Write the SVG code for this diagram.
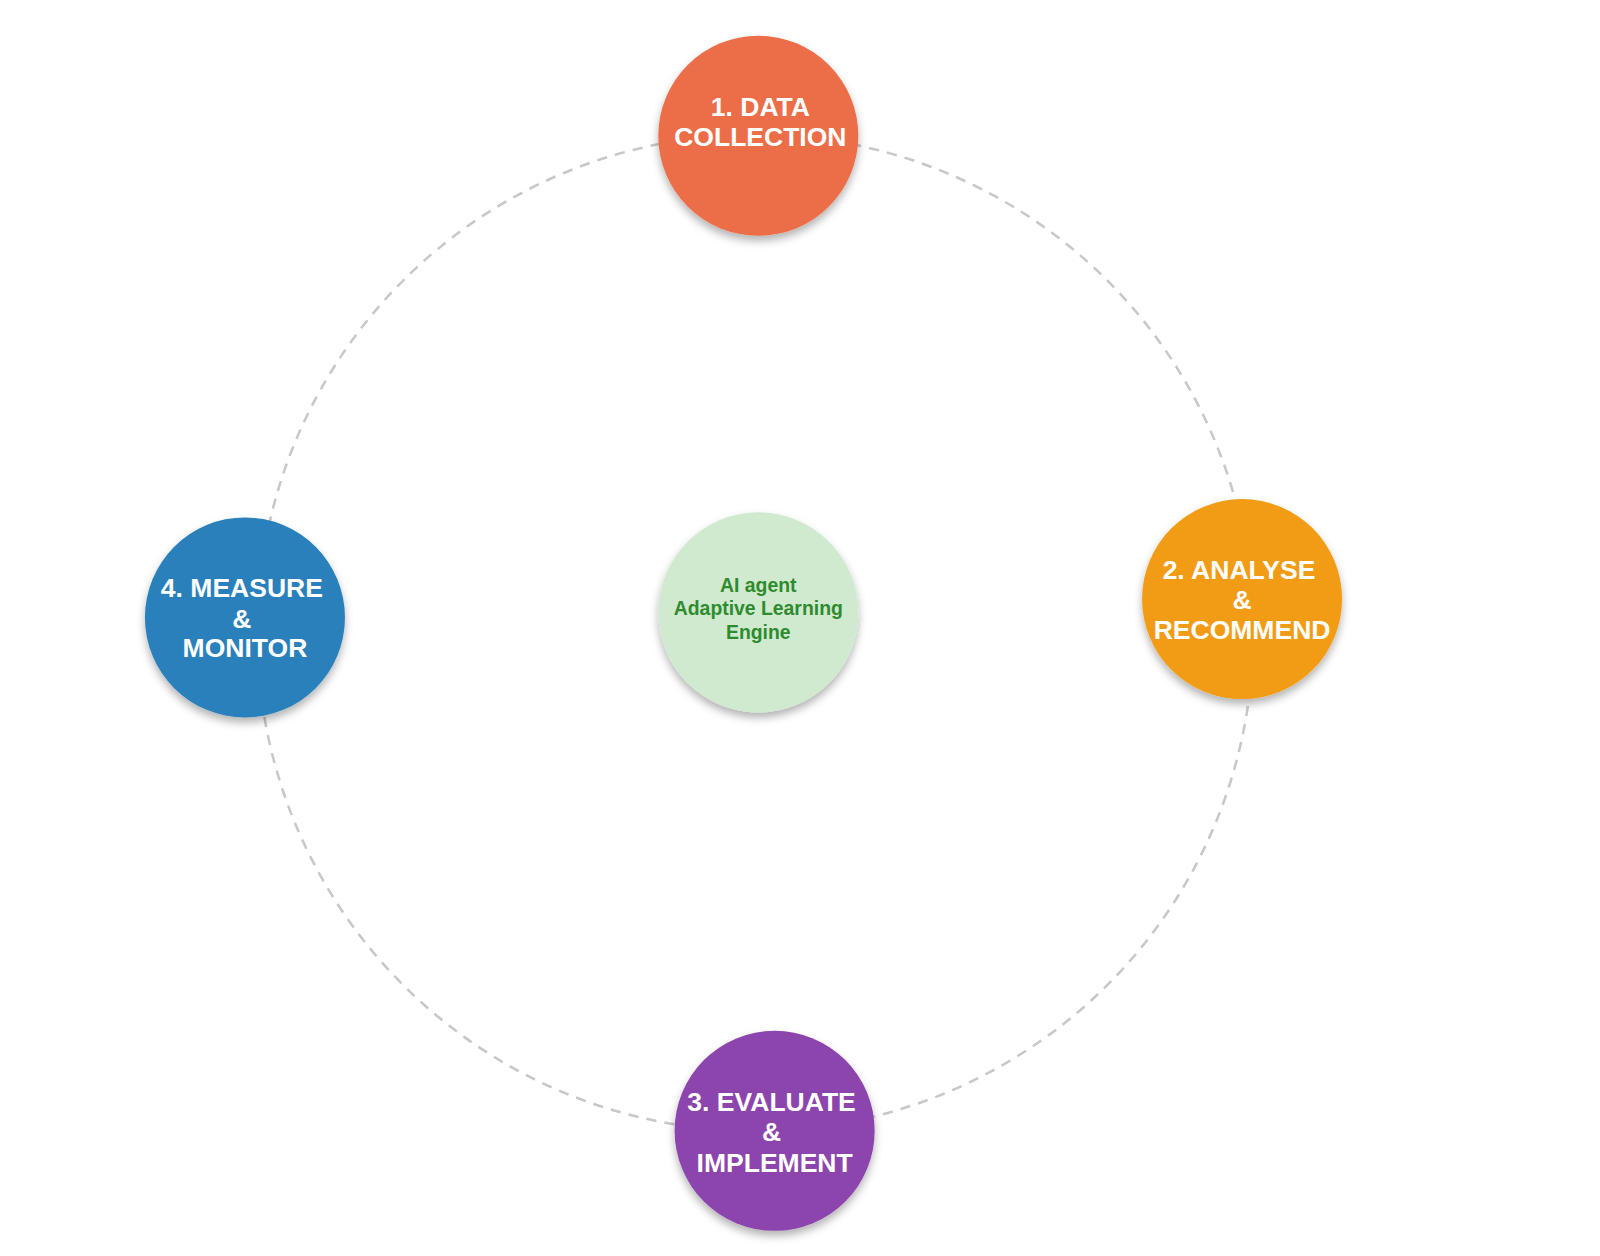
<svg xmlns="http://www.w3.org/2000/svg" width="1600" height="1256" viewBox="0 0 1600 1256">
<defs>
<filter id="sh" x="-20%" y="-20%" width="140%" height="150%"><feDropShadow dx="0" dy="5" stdDeviation="4" flood-color="#000" flood-opacity="0.3"/></filter>
<style>
.n{filter:url(#sh)}
.t{font-family:"Liberation Sans",Arial,sans-serif;font-weight:bold;font-size:26px;fill:#fff;text-anchor:middle}
.c{font-family:"Liberation Sans",Arial,sans-serif;font-weight:bold;font-size:19px;fill:#2e8b2e;text-anchor:middle}
</style>
</defs>
<rect width="1600" height="1256" fill="#fff"/>
<g transform="scale(1.0206)">
<g id="connectors"><circle cx="740" cy="620" r="488" fill="none" stroke="#c8c8c8" stroke-width="2.5" stroke-dasharray="10 8"/></g>
<g id="n1"><circle class="n" cx="743" cy="133" r="98" fill="#eb6e4a"/><text class="t" x="745" y="114">1. DATA</text><text class="t" x="745" y="143">COLLECTION</text></g>
<g id="n2"><circle class="n" cx="1217" cy="587" r="98" fill="#f29c15"/><text class="t" x="1214" y="567">2. ANALYSE</text><text class="t" x="1217" y="597">&amp;</text><text class="t" x="1217" y="626">RECOMMEND</text></g>
<g id="n3"><circle class="n" cx="759" cy="1108" r="98" fill="#8c44ad"/><text class="t" x="756" y="1089">3. EVALUATE</text><text class="t" x="756" y="1118">&amp;</text><text class="t" x="759" y="1148">IMPLEMENT</text></g>
<g id="n4"><circle class="n" cx="240" cy="605" r="98" fill="#2980ba"/><text class="t" x="237" y="585">4. MEASURE</text><text class="t" x="237" y="615">&amp;</text><text class="t" x="240" y="644">MONITOR</text></g>
<g id="center"><circle class="n" cx="743" cy="600" r="98" fill="#d0ead0"/><text class="c" x="743" y="580">AI agent</text><text class="c" x="743" y="603">Adaptive Learning</text><text class="c" x="743" y="626">Engine</text></g>
</g>
</svg>
